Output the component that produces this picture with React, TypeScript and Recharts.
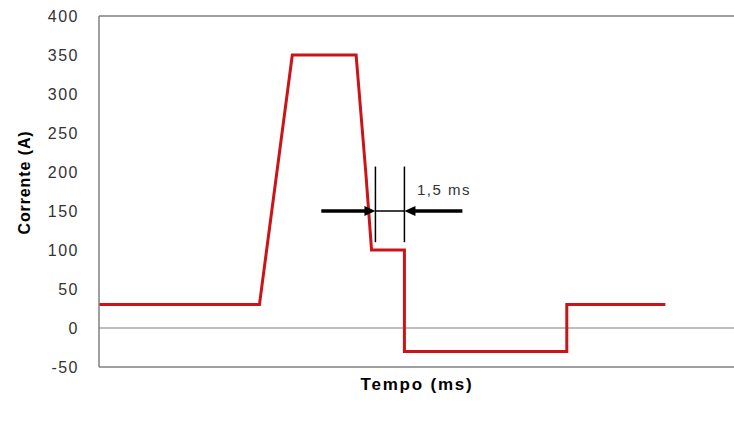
import { Label, Line, LineChart, ReferenceDot, ReferenceLine, XAxis, YAxis } from "recharts";

// time (ms) and current (A) of the pulse
const tempo = [0, 8.3, 10.0, 13.3, 13.8, 14.1, 15.8, 15.8, 24.2, 24.2, 29.3];
const corrente = [30, 30, 350, 350, 200, 100, 100, -30, -30, 30, 30];
const yTicks = [-50, 0, 50, 100, 150, 200, 250, 300, 350, 400];

// annotation: 1,5 ms between the two markers
const markers = [14.3, 15.8];
const markerSpan = [110, 207];
const arrowLevel = 150;
const arrowFrom = [11.5, 18.8];
const noteText = "1,5 ms";
const notePos = { t: 16.45, a: 177 };

const data = tempo.map((t, i) => ({ t, a: corrente[i] }));

const font = "'Liberation Sans', Arial, sans-serif";
const grey = "#7f7f7f";

function Arrowhead({ cx, cy, dir }: { cx?: number; cy?: number; dir: 1 | -1 }) {
  if (cx == null || cy == null) return null;
  const len = 11;
  const half = 5;
  return (
    <path
      d={`M${cx},${cy} L${cx - dir * len},${cy - half} L${cx - dir * len},${cy + half} Z`}
      fill="#000"
    />
  );
}

export default function App() {
  return (
    <div style={{ position: "absolute", left: 0, top: 0, background: "#fff" }}>
      <LineChart width={734} height={423} data={data} margin={{ top: 16, right: 0, bottom: 0, left: 0 }}>
        <XAxis
          dataKey="t"
          type="number"
          domain={[0, 32.85]}
          tick={false}
          tickLine={false}
          axisLine={false}
          height={56}
        >
          <Label
            content={({ viewBox }: any) => (
              <text
                x={viewBox.x + 318}
                y={viewBox.y + 17}
                textAnchor="middle"
                dominantBaseline="central"
                fontFamily={font}
                fontWeight="bold"
                fontSize={17}
                letterSpacing={1.8}
                fill="#000"
              >
                Tempo (ms)
              </text>
            )}
          />
        </XAxis>
        <YAxis
          type="number"
          domain={[-50, 400]}
          ticks={yTicks}
          interval={0}
          width={99}
          tickLine={false}
          axisLine={{ stroke: grey, strokeWidth: 1.5 }}
          tickMargin={14}
          tick={{ fontFamily: font, fontSize: 16, fill: "#333", letterSpacing: 1.5 }}
        >
          <Label
            content={({ viewBox }: any) => {
              const x = viewBox.x + 24;
              const y = viewBox.y + viewBox.height / 2 - 9;
              return (
                <text
                  x={x}
                  y={y}
                  transform={`rotate(-90 ${x} ${y})`}
                  textAnchor="middle"
                  dominantBaseline="central"
                  fontFamily={font}
                  fontWeight="bold"
                  fontSize={16}
                  letterSpacing={0.9}
                  fill="#000"
                >
                  Corrente (A)
                </text>
              );
            }}
          />
        </YAxis>
        <ReferenceLine y={400} stroke={grey} strokeWidth={1.5} />
        <ReferenceLine y={-50} stroke={grey} strokeWidth={1.5} />
        <ReferenceLine y={0} stroke={grey} strokeWidth={1.2} />
        <Line
          dataKey="a"
          type="linear"
          stroke="#cc1418"
          strokeWidth={3}
          dot={false}
          isAnimationActive={false}
        />
        {markers.map((m) => (
          <ReferenceLine
            key={m}
            segment={[
              { x: m, y: markerSpan[0] },
              { x: m, y: markerSpan[1] },
            ]}
            stroke="#000"
            strokeWidth={1.5}
          />
        ))}
        <ReferenceLine
          segment={[
            { x: markers[0], y: arrowLevel },
            { x: markers[1], y: arrowLevel },
          ]}
          stroke="#000"
          strokeWidth={1.5}
        />
        <ReferenceLine
          segment={[
            { x: arrowFrom[0], y: arrowLevel },
            { x: markers[0] - 0.4, y: arrowLevel },
          ]}
          stroke="#000"
          strokeWidth={3.5}
        />
        <ReferenceLine
          segment={[
            { x: arrowFrom[1], y: arrowLevel },
            { x: markers[1] + 0.4, y: arrowLevel },
          ]}
          stroke="#000"
          strokeWidth={3.5}
        />
        <ReferenceDot x={markers[0]} y={arrowLevel} shape={(p: any) => <Arrowhead cx={p.cx} cy={p.cy} dir={1} />} />
        <ReferenceDot x={markers[1]} y={arrowLevel} shape={(p: any) => <Arrowhead cx={p.cx} cy={p.cy} dir={-1} />} />
        <ReferenceDot
          x={notePos.t}
          y={notePos.a}
          shape={(p: any) => (
            <text
              x={p.cx}
              y={p.cy}
              dominantBaseline="central"
              fontFamily={font}
              fontSize={15}
              letterSpacing={1.5}
              fill="#333"
            >
              {noteText}
            </text>
          )}
        />
      </LineChart>
    </div>
  );
}
